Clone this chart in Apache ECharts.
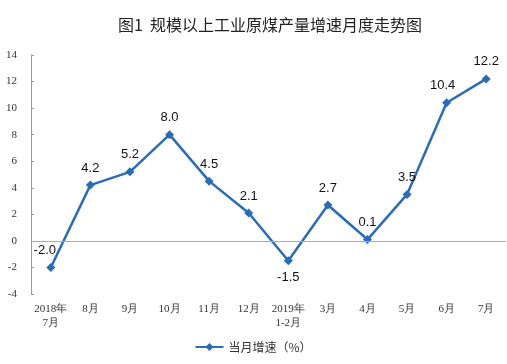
<!DOCTYPE html>
<html><head><meta charset="utf-8">
<script src="https://cdn.jsdelivr.net/npm/echarts@6/dist/echarts.min.js"></script>
<style>html,body{margin:0;padding:0;background:#fff}#c{width:507px;height:364px}</style>
</head><body><div id="c"></div>
<script>
const categories = ['2018年\n7月','8月','9月','10月','11月','12月','2019年\n1-2月','3月','4月','5月','6月','7月'];
const values = [-2.0, 4.2, 5.2, 8.0, 4.5, 2.1, -1.5, 2.7, 0.1, 3.5, 10.4, 12.2];
const yTicks = [-4, 14, 2];
const seriesName = '当月增速（%）';
const titleText = '图1  规模以上工业原煤产量增速月度走势图';

const labelPos = ['top','top','top','top','top','top','bottom','top','top','top','top','top'];
const labelOffset = [[-6,0],[0,0],[0,0],[0,0],[0,0],[0,0],[0,0],[0,0],[0,0],[0,0],[-4,0],[0,0]];

const chart = echarts.init(document.getElementById('c'));
chart.setOption({
  animation: false,
  title: {text: titleText, left: 265, textAlign: 'center', top: 12,
    textStyle: {fontFamily: 'Noto Sans CJK SC', fontSize: 16, fontWeight: 'normal', color: '#222'}},
  grid: {left: 31, right: 1, top: 55, bottom: 70},
  legend: {bottom: 6, left: 'center', itemWidth: 28, itemHeight: 10,
    textStyle: {fontFamily: 'Noto Sans CJK SC', fontSize: 12, color: '#333'},
    data: [{name: seriesName, icon: 'path://M0,4L11,4L14,1L17,4L28,4L28,6L17,6L14,9L11,6L0,6Z'}]},
  xAxis: {type: 'category', data: categories, boundaryGap: true,
    axisLine: {show: false, onZero: false}, axisTick: {show: false},
    axisLabel: {fontFamily: 'Liberation Serif', fontSize: 11, color: '#333', lineHeight: 14, margin: 8, interval: 0}},
  yAxis: {type: 'value', min: yTicks[0], max: yTicks[1], interval: yTicks[2],
    axisLine: {show: true, lineStyle: {color: '#999'}},
    axisTick: {show: true, inside: true, length: 3, lineStyle: {color: '#999'}},
    splitLine: {show: false},
    axisLabel: {fontFamily: 'Liberation Serif', fontSize: 11, color: '#333', margin: 14}},
  series: [{
    name: seriesName, type: 'line', data: values.map((v,i)=>({value: v,
      label: {position: labelPos[i], offset: labelOffset[i]}})),
    symbol: 'diamond', symbolSize: 9,
    lineStyle: {color: '#2C6CB5', width: 2.5},
    itemStyle: {color: '#2C6CB5'},
    label: {show: true, fontFamily: 'Liberation Sans', fontSize: 13, color: '#111', distance: 6,
      formatter: p => p.value.toFixed(1)},
    markLine: {silent: true, symbol: 'none', label: {show: false},
      lineStyle: {color: '#aaa', type: 'solid', width: 1}, data: [{yAxis: 0}]}
  }]
});
</script></body></html>
